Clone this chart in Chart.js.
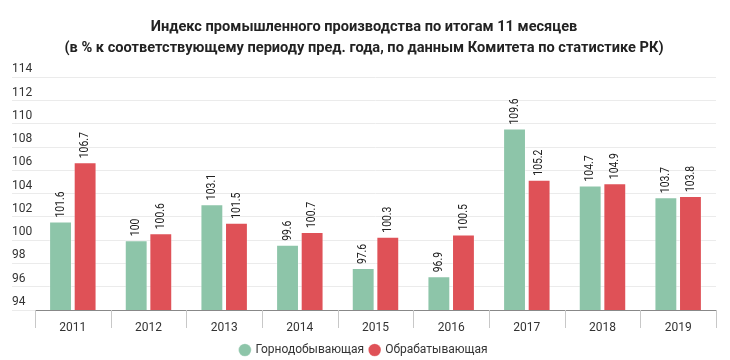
<!DOCTYPE html>
<html>
<head>
<meta charset="utf-8">
<script src="https://cdn.jsdelivr.net/npm/chart.js@4/dist/chart.umd.min.js"></script>
<style>
  html, body { margin: 0; padding: 0; background: #fff; }
  #wrap { width: 730px; height: 360px; }
</style>
</head>
<body>
<div id="wrap"><canvas id="myChart"></canvas></div>
<script>
// data
var years = ['2011', '2012', '2013', '2014', '2015', '2016', '2017', '2018', '2019'];
var mining = [101.6, 100, 103.1, 99.6, 97.6, 96.9, 109.6, 104.7, 103.7];
var manufacturing = [106.7, 100.6, 101.5, 100.7, 100.3, 100.5, 105.2, 104.9, 103.8];
var seriesNames = ['Горнодобывающая', 'Обрабатывающая'];
var titleLines = [
  'Индекс промышленного производства по итогам 11 месяцев',
  '(в % к соответствующему периоду пред. года, по данным Комитета по статистике РК)'
];

// vertical value labels above the bars
var barLabels = {
  id: 'barLabels',
  afterDatasetsDraw: function(chart) {
    var ctx = chart.ctx;
    ctx.save();
    ctx.font = '13px Roboto';
    ctx.fillStyle = '#222';
    ctx.textAlign = 'left';
    ctx.textBaseline = 'middle';
    chart.data.datasets.forEach(function(ds, i) {
      var meta = chart.getDatasetMeta(i);
      meta.data.forEach(function(bar, j) {
        ctx.save();
        ctx.translate(bar.x, bar.y - 4);
        ctx.rotate(-Math.PI / 2);
        ctx.scale(0.8, 1);
        ctx.fillText(String(ds.data[j]), 0, 0);
        ctx.restore();
      });
    });
    ctx.restore();
  }
};

// small separators between the years under the axis
var yearTicks = {
  id: 'yearTicks',
  afterDraw: function(chart) {
    var x = chart.scales.x;
    var ctx = chart.ctx;
    var step = x.getPixelForValue(1) - x.getPixelForValue(0);
    var bottom = chart.chartArea.bottom;
    ctx.save();
    ctx.strokeStyle = '#c8c8c8';
    ctx.lineWidth = 1;
    for (var i = 0; i <= years.length; i++) {
      var px = Math.round(x.getPixelForValue(i) - step / 2) + 0.5;
      ctx.beginPath();
      ctx.moveTo(px, bottom);
      ctx.lineTo(px, bottom + 18);
      ctx.stroke();
    }
    ctx.restore();
  }
};

var ctx = document.getElementById('myChart').getContext('2d');
var myChart = new Chart(ctx, {
  type: 'bar',
  data: {
    labels: years,
    datasets: [{
      label: seriesNames[0],
      data: mining,
      backgroundColor: '#8dc5a9',
      borderColor: 'rgba(255,255,255,0.35)',
      borderWidth: 1,
      categoryPercentage: 0.65,
      barPercentage: 0.93
    }, {
      label: seriesNames[1],
      data: manufacturing,
      backgroundColor: '#df5157',
      borderColor: 'rgba(255,255,255,0.35)',
      borderWidth: 1,
      categoryPercentage: 0.65,
      barPercentage: 0.93
    }]
  },
  options: {
    responsive: true,
    maintainAspectRatio: false,
    animation: false,
    layout: { padding: { left: 12, right: 14, top: 7, bottom: -6 } },
    scales: {
      x: {
        afterFit: function(scale) { scale.height = 28; },
        grid: { display: false },
        border: { display: true, color: '#888', width: 1 },
        ticks: { padding: 3, color: '#333', font: { family: 'Roboto', size: 12 } }
      },
      y: {
        min: 94,
        max: 114,
        afterFit: function(scale) { scale.width = 23; },
        grid: { color: '#ebebeb', tickColor: '#ebebeb', tickLength: 23 },
        border: { display: false },
        ticks: {
          stepSize: 2,
          crossAlign: 'far',
          labelOffset: -8,
          color: '#333',
          font: { family: 'Roboto', size: 12 }
        }
      }
    },
    plugins: {
      title: {
        display: true,
        text: titleLines,
        color: '#222',
        font: { family: 'Roboto', size: 14.6, weight: 'bold', lineHeight: 1.45 },
        padding: { top: 10, bottom: 18 }
      },
      legend: {
        position: 'bottom',
        labels: {
          usePointStyle: true,
          pointStyle: 'circle',
          boxWidth: 9,
          boxHeight: 9,
          padding: 6,
          color: '#333',
          font: { family: 'Roboto', size: 12 }
        }
      },
      tooltip: { enabled: false }
    }
  },
  plugins: [barLabels, yearTicks]
});
</script>
</body>
</html>
